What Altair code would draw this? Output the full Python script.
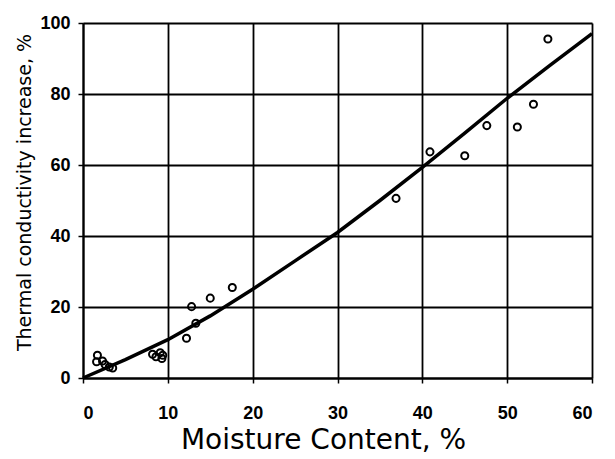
import altair as alt
import pandas as pd

# Measured points (moisture content %, thermal conductivity increase %)
moisture = [1.7, 1.6, 2.3, 2.6, 3.1, 3.5,
            8.2, 9.1, 9.3, 8.6, 9.4,
            12.2, 12.8, 13.3, 15.0, 17.6,
            36.9, 40.9, 45.0, 47.6, 51.2, 53.1, 54.8]
increase = [6.4, 4.6, 4.8, 3.8, 3.1, 2.8,
            6.7, 7.1, 5.5, 6.0, 6.4,
            11.2, 20.1, 15.4, 22.5, 25.5,
            50.6, 63.7, 62.6, 71.1, 70.7, 77.1, 95.5]

# Fitted curve
curve_x = [0, 5, 10, 15, 20, 25, 30, 35, 40, 45, 50, 55, 60]
curve_y = [0, 5.2, 10.8, 17.5, 25.0, 33.0, 41.0, 50.0, 59.3, 69.0, 78.8, 88.0, 97.0]

x_ticks = [0, 10, 20, 30, 40, 50, 60]
y_ticks = [0, 20, 40, 60, 80, 100]

pts = pd.DataFrame({"x": moisture, "y": increase})
crv = pd.DataFrame({"x": curve_x, "y": curve_y})

xs = alt.Scale(domain=[0, 60], nice=False, zero=False)
ys = alt.Scale(domain=[0, 100], nice=False, zero=False)

common = dict(labelFont="Liberation Sans", labelFontWeight="bold", labelFontSize=18,
              tickSize=5, tickColor="black", tickWidth=1.5, domainColor="black",
              domainWidth=2, grid=True, gridColor="black", gridWidth=1.8,
              labelColor="black", titleColor="black", titleFont="DejaVu Sans",
              titleFontWeight="normal")

xax = alt.Axis(title="Moisture Content, %", values=x_ticks, titleFontSize=28,
               titleX=240, titleY=70, titleBaseline="alphabetic", titleAlign="center",
               labelPadding=21, **common)
yax = alt.Axis(title="Thermal conductivity increase, %", values=y_ticks,
               titleFontSize=19, titlePadding=5, titleY=169, titleAlign="center",
               labelPadding=8, **common)

line = alt.Chart(crv).mark_line(color="black", strokeWidth=3.5).encode(
    x=alt.X("x:Q", scale=xs, axis=xax),
    y=alt.Y("y:Q", scale=ys, axis=yax),
)
points = alt.Chart(pts).mark_point(shape="circle", size=50, filled=False,
                                   color="black", strokeWidth=2, opacity=1).encode(
    x=alt.X("x:Q", scale=xs),
    y=alt.Y("y:Q", scale=ys),
)

chart = alt.layer(line, points).properties(
    width=509, height=355,
    autosize=alt.AutoSizeParams(type="none"),
    padding={"left": 75, "top": 15, "right": 15, "bottom": 79},
).configure_view(stroke="black", strokeWidth=2.5).configure(background="white")

chart.save("out.html", embed_options={"renderer": "svg", "actions": False})
